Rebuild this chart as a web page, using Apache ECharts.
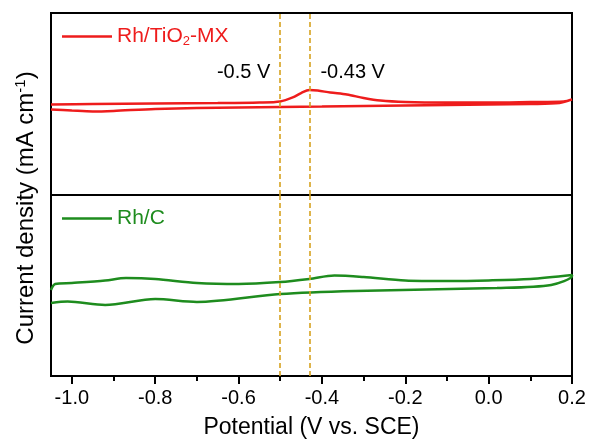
<!DOCTYPE html>
<html>
<head>
<meta charset="utf-8">
<script src="https://cdn.jsdelivr.net/npm/echarts@6/dist/echarts.min.js"></script>
<style>
html, body { margin: 0; padding: 0; background: #fff; }
#chart { width: 592px; height: 441px; }
</style>
</head>
<body>
<div id="chart"></div>
<script>
// CV of Rh/TiO2-MX: anodic scan (-1.05 -> 0.2) then cathodic scan back
var rhTiO2Potential = [-1.05, -0.95, -0.8, -0.65, -0.55, -0.5, -0.47, -0.45, -0.43, -0.41, -0.38, -0.34, -0.3, -0.26, -0.2, -0.1, 0.0, 0.1, 0.18, 0.2,
                       0.2, 0.17, 0.1, 0.0, -0.2, -0.4, -0.6, -0.8, -0.9, -0.95, -1.0, -1.05];
var rhTiO2Current = [4.97, 5.0, 5.03, 5.05, 5.08, 5.14, 5.36, 5.6, 5.77, 5.74, 5.63, 5.52, 5.33, 5.19, 5.11, 5.08, 5.08, 5.11, 5.14, 5.25,
                     5.22, 5.05, 5.0, 4.97, 4.92, 4.86, 4.81, 4.73, 4.62, 4.59, 4.64, 4.7];

// CV of Rh/C
var rhCPotential = [-1.05, -1.04, -1.0, -0.92, -0.87, -0.8, -0.7, -0.6, -0.5, -0.43, -0.37, -0.3, -0.2, -0.1, 0.0, 0.1, 0.2,
                    0.2, 0.15, 0.02, -0.32, -0.5, -0.7, -0.8, -0.92, -1.01, -1.05];
var rhCCurrent = [4.75, 5.08, 5.14, 5.28, 5.41, 5.36, 5.14, 5.08, 5.19, 5.36, 5.55, 5.47, 5.28, 5.25, 5.28, 5.36, 5.58,
                  5.52, 5.03, 4.86, 4.7, 4.53, 4.09, 4.25, 3.92, 4.11, 4.03];

var xTicks = [-1.0, -0.8, -0.6, -0.4, -0.2, 0.0, 0.2];
var xMinorTicks = [-0.9, -0.7, -0.5, -0.3, -0.1, 0.1];
var peakPotentials = [-0.5, -0.43];
var peakLabels = ['-0.5 V', '-0.43 V'];

function zip(xs, ys) {
    var out = [];
    for (var i = 0; i < xs.length; i++) out.push([xs[i], ys[i]]);
    return out;
}

var font = '"Liberation Sans", Arial, sans-serif';
var dashColor = '#d6a21e';
var red = '#ee1c1c';
var green = '#1e8c1e';

var chart = echarts.init(document.getElementById('chart'));

var dashLines = {
    silent: true,
    symbol: 'none',
    label: { show: false },
    lineStyle: { color: dashColor, type: [5, 3], width: 1.6 },
    data: peakPotentials.map(function (p) { return { xAxis: p }; })
};

chart.setOption({
    animation: false,
    textStyle: { fontFamily: font },
    grid: [
        { left: 51, right: 20, top: 13, height: 182, show: true, borderColor: '#000', borderWidth: 2 },
        { left: 51, right: 20, top: 195, height: 181, show: true, borderColor: '#000', borderWidth: 2 }
    ],
    xAxis: [
        { type: 'value', gridIndex: 0, min: -1.05, max: 0.2, axisLine: { show: false }, axisTick: { show: false }, axisLabel: { show: false }, splitLine: { show: false } },
        {
            type: 'value', gridIndex: 1, min: -1.05, max: 0.2, position: 'bottom',
            axisLine: { show: false },
            splitLine: { show: false },
            axisTick: { show: true, inside: false, length: 8, customValues: xTicks, lineStyle: { color: '#000', width: 2 } },
            axisLabel: { show: true, customValues: xTicks, margin: 12, color: '#000', fontSize: 20, fontFamily: font,
                formatter: function (v) { return v.toFixed(1); } },
            name: 'Potential (V vs. SCE)', nameLocation: 'middle', nameGap: 40,
            nameTextStyle: { color: '#000', fontSize: 23, fontFamily: font }
        },
        {
            type: 'value', gridIndex: 1, min: -1.05, max: 0.2, position: 'bottom', offset: 0,
            axisLine: { show: false }, splitLine: { show: false }, axisLabel: { show: false },
            axisTick: { show: true, inside: false, length: 5, customValues: xMinorTicks, lineStyle: { color: '#000', width: 2 } }
        }
    ],
    yAxis: [
        { type: 'value', gridIndex: 0, min: 0, max: 10, axisLine: { show: false }, axisTick: { show: false }, axisLabel: { show: false }, splitLine: { show: false } },
        { type: 'value', gridIndex: 1, min: 0, max: 10, axisLine: { show: false }, axisTick: { show: false }, axisLabel: { show: false }, splitLine: { show: false } }
    ],
    legend: [
        {
            data: ['Rh/TiO2-MX'], left: 57, top: 21, icon: 'rect', itemWidth: 50, itemHeight: 2.5, itemGap: 6,
            itemStyle: { color: red },
            textStyle: { color: red, fontSize: 21, fontFamily: font,
                rich: { sub: { fontSize: 13, color: red, padding: [10, 0, 0, 0], fontFamily: font } } },
            formatter: function () { return 'Rh/TiO{sub|2}-MX'; }
        },
        {
            data: ['Rh/C'], left: 57, top: 203, icon: 'rect', itemWidth: 50, itemHeight: 2.5, itemGap: 6,
            itemStyle: { color: green },
            textStyle: { color: green, fontSize: 21, fontFamily: font }
        }
    ],
    graphic: [{
        type: 'text', x: 26, y: 208, rotation: Math.PI / 2,
        style: {
            text: '{t|Current density (mA cm}{s|-1}{t|)}',
            align: 'center', verticalAlign: 'middle',
            rich: {
                t: { fontSize: 24, fontFamily: font, fill: '#000', color: '#000' },
                s: { fontSize: 15, fontFamily: font, fill: '#000', color: '#000', padding: [0, 0, 10, 0] }
            }
        }
    }],
    series: [
        {
            name: 'Rh/TiO2-MX', type: 'line', xAxisIndex: 0, yAxisIndex: 0,
            data: zip(rhTiO2Potential, rhTiO2Current),
            smooth: 0.3, symbol: 'none', showSymbol: false,
            lineStyle: { color: red, width: 2.5 }, itemStyle: { color: red },
            markLine: dashLines,
            markPoint: {
                symbol: 'circle', symbolSize: 0,
                data: [
                    { coord: [peakPotentials[0], 6.75], label: { show: true, position: 'left', distance: 10, formatter: peakLabels[0], color: '#000', fontSize: 20, fontFamily: font } },
                    { coord: [peakPotentials[1], 6.75], label: { show: true, position: 'right', distance: 11, formatter: peakLabels[1], color: '#000', fontSize: 20, fontFamily: font } }
                ]
            }
        },
        {
            name: 'Rh/C', type: 'line', xAxisIndex: 1, yAxisIndex: 1,
            data: zip(rhCPotential, rhCCurrent),
            smooth: 0.3, symbol: 'none', showSymbol: false,
            lineStyle: { color: green, width: 2.5 }, itemStyle: { color: green },
            markLine: dashLines
        }
    ]
});
</script>
</body>
</html>
